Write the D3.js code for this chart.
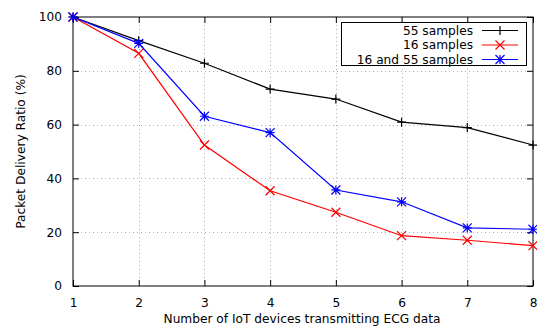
<!DOCTYPE html>
<html>
<head>
<meta charset="utf-8">
<script src="https://cdn.jsdelivr.net/npm/d3@7"></script>
<style>
  html, body { margin: 0; padding: 0; background: #fff; }
  svg { display: block; font-family: "DejaVu Sans", sans-serif; }
</style>
</head>
<body>
<svg id="chart" width="537" height="327"></svg>
<script>
// Number of IoT devices on the x axis
const devices = [1, 2, 3, 4, 5, 6, 7, 8];
// Packet delivery ratio (%) per configuration
const pdr55 = [100, 91.2, 82.8, 73.2, 69.5, 60.9, 58.9, 52.4];
const pdr16 = [100, 86.5, 52.4, 35.4, 27.4, 18.7, 17.0, 15.0];
const pdrBoth = [100, 90.2, 63.1, 57.0, 35.7, 31.3, 21.6, 21.1];
const seriesNames = ["55 samples", "16 samples", "16 and 55 samples"];
const seriesColors = ["#000000", "#ff0000", "#0000ff"];
const seriesMarkers = ["plus", "cross", "star"];
const yTicks = [0, 20, 40, 60, 80, 100];

const svg = d3.select("#chart");
const plotL = 73, plotR = 533, plotT = 17, plotB = 286;
const x = d3.scaleLinear().domain([1, 8]).range([plotL, plotR]);
const y = d3.scaleLinear().domain([0, 100]).range([plotB, plotT]);

// grid
const grid = svg.append("g").attr("stroke", "#b0b0b0").attr("stroke-width", 1)
  .attr("stroke-dasharray", "1,3");
devices.slice(1, -1).forEach(d => grid.append("line")
  .attr("x1", Math.round(x(d)) + 0.5).attr("x2", Math.round(x(d)) + 0.5)
  .attr("y1", plotT).attr("y2", plotB));
yTicks.slice(1, -1).forEach(v => grid.append("line")
  .attr("x1", plotL).attr("x2", plotR)
  .attr("y1", Math.round(y(v)) + 0.5).attr("y2", Math.round(y(v)) + 0.5));

// axes
const fs = "12.2px";
const xAxis = svg.append("g").attr("transform", `translate(0,${plotB})`)
  .call(d3.axisBottom(x).tickValues(devices).tickSize(-6).tickPadding(12).tickFormat(d3.format("d")));
const xAxisTop = svg.append("g").attr("transform", `translate(0,${plotT})`)
  .call(d3.axisTop(x).tickValues(devices).tickSize(-6).tickFormat(""));
const yAxis = svg.append("g").attr("transform", `translate(${plotL},0)`)
  .call(d3.axisLeft(y).tickValues(yTicks).tickSize(-6).tickPadding(11).tickFormat(d3.format("d")));
const yAxisRight = svg.append("g").attr("transform", `translate(${plotR},0)`)
  .call(d3.axisRight(y).tickValues(yTicks).tickSize(-6).tickFormat(""));
[xAxis, xAxisTop, yAxis, yAxisRight].forEach(a => {
  a.select(".domain").remove();
  a.selectAll("line").attr("stroke", "#000");
  a.selectAll("text").attr("font-family", "DejaVu Sans").attr("font-size", fs).attr("fill", "#000");
});

svg.append("rect").attr("x", plotL).attr("y", plotT)
  .attr("width", plotR - plotL).attr("height", plotB - plotT)
  .attr("fill", "none").attr("stroke", "#000").attr("stroke-width", 1);

// axis titles
svg.append("text").attr("x", 302).attr("y", 323)
  .attr("text-anchor", "middle").attr("font-size", fs).text("Number of IoT devices transmitting ECG data");
svg.append("text").attr("transform", `translate(25,${(plotT + plotB) / 2}) rotate(-90)`)
  .attr("text-anchor", "middle").attr("font-size", fs).text("Packet Delivery Ratio (%)");

// markers
function marker(g, kind, cx, cy, color) {
  const s = 4.5;
  const p = g.append("path").attr("stroke", color).attr("stroke-width", 1.2).attr("fill", "none");
  if (kind === "plus") p.attr("d", `M${cx - s},${cy}H${cx + s}M${cx},${cy - s}V${cy + s}`);
  else if (kind === "cross") p.attr("d", `M${cx - s},${cy - s}L${cx + s},${cy + s}M${cx - s},${cy + s}L${cx + s},${cy - s}`);
  else p.attr("d", `M${cx - s},${cy}H${cx + s}M${cx},${cy - s}V${cy + s}M${cx - s},${cy - s}L${cx + s},${cy + s}M${cx - s},${cy + s}L${cx + s},${cy - s}`);
}

const line = d3.line().x((d, i) => x(devices[i])).y(d => y(d));
[pdr55, pdr16, pdrBoth].forEach((vals, k) => {
  const g = svg.append("g");
  g.append("path").datum(vals).attr("d", line).attr("fill", "none")
    .attr("stroke", seriesColors[k]).attr("stroke-width", 1.2);
  vals.forEach((v, i) => marker(g, seriesMarkers[k], x(devices[i]), y(v), seriesColors[k]));
});

// legend
const lg = svg.append("g");
lg.append("rect").attr("x", 341.5).attr("y", 22.5).attr("width", 185).attr("height", 43)
  .attr("fill", "#fff").attr("stroke", "#000");
seriesNames.forEach((name, k) => {
  const ly = 30.5 + k * 14.5;
  lg.append("text").attr("x", 473).attr("y", ly).attr("dy", "0.35em")
    .attr("text-anchor", "end").attr("font-size", fs).text(name);
  lg.append("line").attr("x1", 482).attr("x2", 518).attr("y1", ly).attr("y2", ly)
    .attr("stroke", seriesColors[k]).attr("stroke-width", 1.2);
  marker(lg, seriesMarkers[k], 500, ly, seriesColors[k]);
});
</script>
</body>
</html>
